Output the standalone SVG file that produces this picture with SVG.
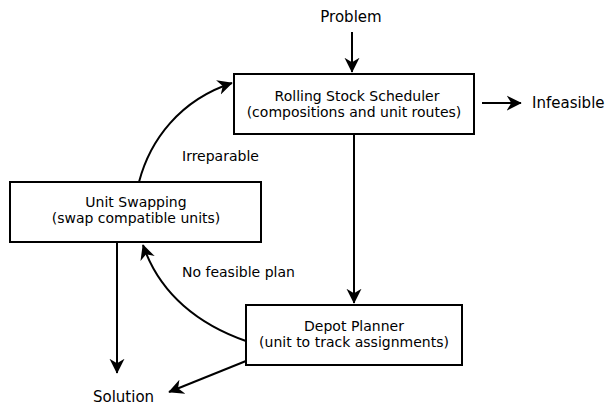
<svg xmlns="http://www.w3.org/2000/svg" width="608" height="408" viewBox="0 0 608 408">
<style>
text{font-family:"DejaVu Sans",sans-serif;font-size:14px;fill:#000}
.o{font-size:15px}
.box{fill:#fff;stroke:#000;stroke-width:2}
.c{fill:none;stroke:#000;stroke-width:2}
</style>
<defs>
<marker id="a" viewBox="0 0 10 10" refX="9.5" refY="5" markerWidth="7.5" markerHeight="8" markerUnits="strokeWidth" orient="auto">
<path d="M0,0 L10,5 L0,10 L3,5 Z" fill="#000"/>
</marker>
</defs>
<rect width="608" height="408" fill="#fff"/>
<g id="connectors">
<line class="c" x1="352" y1="32" x2="352" y2="72" marker-end="url(#a)"/>
<line class="c" x1="482" y1="103" x2="521" y2="103" marker-end="url(#a)"/>
<line class="c" x1="354" y1="134" x2="354" y2="303" marker-end="url(#a)"/>
<path class="c" d="M139,182 C150,140 180,100 232,83" marker-end="url(#a)"/>
<path class="c" d="M246,341 C200,325 160,295 143,245" marker-end="url(#a)"/>
<line class="c" x1="117" y1="242" x2="117" y2="373" marker-end="url(#a)"/>
<line class="c" x1="246" y1="361" x2="169" y2="392" marker-end="url(#a)"/>
</g>
<g id="problem"><text class="o" x="351" y="22" text-anchor="middle">Problem</text></g>
<g id="infeasible"><text class="o" x="532" y="108">Infeasible</text></g>
<g id="solution"><text class="o" x="93" y="402">Solution</text></g>
<g id="rss">
<rect class="box" x="234" y="74" width="240" height="60"/>
<text x="357" y="101" text-anchor="middle">Rolling Stock Scheduler</text>
<text x="354" y="117" text-anchor="middle">(compositions and unit routes)</text>
</g>
<g id="swap">
<rect class="box" x="10" y="182" width="251" height="60"/>
<text x="136" y="207" text-anchor="middle">Unit Swapping</text>
<text x="136" y="223" text-anchor="middle">(swap compatible units)</text>
</g>
<g id="depot">
<rect class="box" x="246" y="305" width="216" height="60"/>
<text x="354" y="331" text-anchor="middle">Depot Planner</text>
<text x="354" y="347" text-anchor="middle">(unit to track assignments)</text>
</g>
<g id="labels">
<text x="182" y="161">Irreparable</text>
<text x="182" y="277">No feasible plan</text>
</g>
</svg>
